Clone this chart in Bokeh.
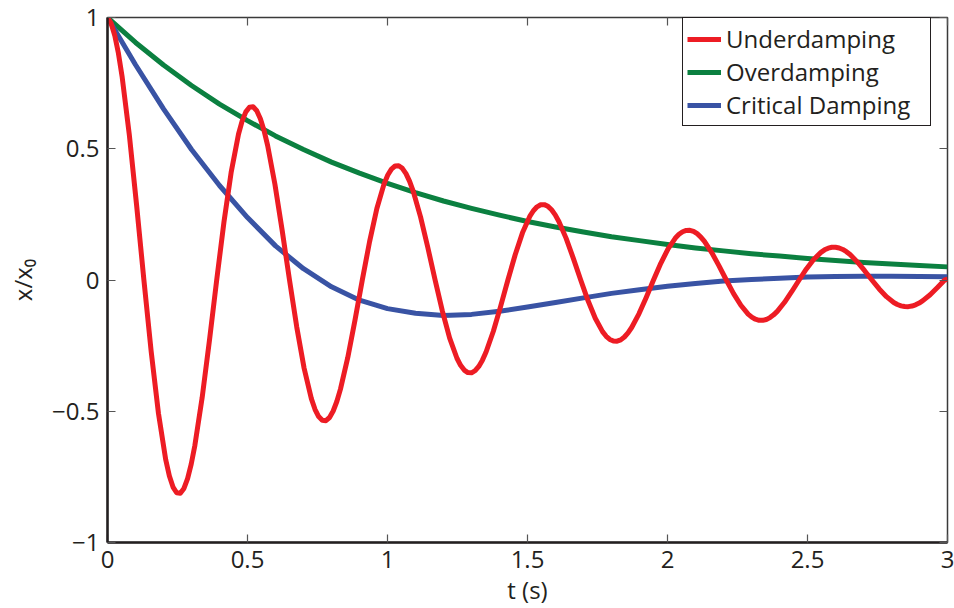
from bokeh.plotting import figure
from bokeh.models import Range1d, FixedTicker, LinearAxis, Legend, LegendItem
from bokeh.embed import file_html
from bokeh.resources import INLINE

# ---------------- data ----------------
# underdamped response, sampled every 0.026 s
t_under = [round(0.026 * k, 3) for k in range(116)] + [3.0]
x_under = [
    1.000, 0.9315, 0.7760, 0.5522, 0.2843, 0.0, -0.2727, -0.5081, -0.6850, -0.7887,
    -0.8122, -0.7566, -0.6303, -0.4485, -0.2309, 0.0, 0.2215, 0.4127, 0.5563, 0.6406,
    0.6597, 0.6145, 0.5119, 0.3643, 0.1876, 0.0, -0.1799, -0.3352, -0.4519, -0.5203,
    -0.5358, -0.4991, -0.4158, -0.2959, -0.1523, 0.0, 0.1461, 0.2723, 0.3670, 0.4226,
    0.4352, 0.4054, 0.3378, 0.2404, 0.1237, 0.0, -0.1187, -0.2211, -0.2981, -0.3433,
    -0.3535, -0.3293, -0.2743, -0.1952, -0.1005, 0.0, 0.0964, 0.1796, 0.2421, 0.2788,
    0.2871, 0.2674, 0.2228, 0.1586, 0.0816, 0.0, -0.0783, -0.1459, -0.1967, -0.2265,
    -0.2332, -0.2172, -0.1810, -0.1288, -0.0663, 0.0, 0.0636, 0.1185, 0.1597, 0.1839,
    0.1894, 0.1764, 0.1470, 0.1046, 0.0538, 0.0, -0.0517, -0.0962, -0.1298, -0.1494,
    -0.1538, -0.1433, -0.1194, -0.0849, -0.0437, 0.0, 0.0420, 0.0782, 0.1053, 0.1214,
    0.1249, 0.1164, 0.0970, 0.0690, 0.0355, 0.0, -0.0341, -0.0635, -0.0856, -0.0985,
    -0.1015, -0.0945, -0.0788, -0.0560, -0.0288, 0.0, 0.003,
]
# extra readings around the start and around every peak / trough
t_under_extra = [0.013, 0.039,
                 0.221, 0.247, 0.273, 0.299, 0.481, 0.507, 0.533, 0.559,
                 0.741, 0.767, 0.793, 0.819, 1.001, 1.027, 1.053, 1.079,
                 1.261, 1.287, 1.313, 1.339, 1.521, 1.547, 1.573, 1.599,
                 1.781, 1.807, 1.833, 1.859, 2.041, 2.067, 2.093, 2.119,
                 2.301, 2.327, 2.353, 2.379, 2.561, 2.587, 2.613, 2.639,
                 2.821, 2.847, 2.873, 2.899]
x_under_extra = [0.9775, 0.8636,
                 -0.7466, -0.8105, -0.7939, -0.7015, 0.6064, 0.6583, 0.6449, 0.5697,
                 -0.4925, -0.5346, -0.5238, -0.4628, 0.4001, 0.4343, 0.4254, 0.3758,
                 -0.3249, -0.3528, -0.3455, -0.3053, 0.2639, 0.2865, 0.2806, 0.2480,
                 -0.2144, -0.2327, -0.2280, -0.2014, 0.1741, 0.1890, 0.1851, 0.1636,
                 -0.1414, -0.1536, -0.1503, -0.1328, 0.1148, 0.1247, 0.1221, 0.1079,
                 -0.0933, -0.1012, -0.0992, -0.0877]

t_grid = [0.0, 0.1, 0.2, 0.3, 0.4, 0.5, 0.6, 0.7, 0.8, 0.9, 1.0,
          1.1, 1.2, 1.3, 1.4, 1.5, 1.6, 1.7, 1.8, 1.9, 2.0,
          2.1, 2.2, 2.3, 2.4, 2.5, 2.6, 2.7, 2.8, 2.9, 3.0]
x_over = [1.000, 0.905, 0.819, 0.741, 0.670, 0.607, 0.549, 0.497, 0.449, 0.407, 0.368,
          0.333, 0.301, 0.273, 0.247, 0.223, 0.202, 0.183, 0.165, 0.150, 0.135,
          0.122, 0.111, 0.100, 0.091, 0.082, 0.074, 0.067, 0.061, 0.055, 0.050]
x_crit = [1.000, 0.820, 0.652, 0.497, 0.360, 0.238, 0.130, 0.043, -0.026, -0.077, -0.109,
          -0.127, -0.135, -0.131, -0.119, -0.103, -0.086, -0.068, -0.051, -0.037, -0.024,
          -0.013, -0.004, 0.002, 0.007, 0.011, 0.013, 0.014, 0.014, 0.013, 0.012]

series_names = ["Underdamping", "Overdamping", "Critical Damping"]

x_ticks = [0, 0.5, 1, 1.5, 2, 2.5, 3]
x_tick_labels = ["0", "0.5", "1", "1.5", "2", "2.5", "3"]
y_ticks = [-1, -0.5, 0, 0.5, 1]
y_tick_labels = ["\u22121", "\u22120.5", "0", "0.5", "1"]

# merge the underdamped readings in time order
_pairs = sorted(zip(t_under + t_under_extra, x_under + x_under_extra))
t_u = [a for a, _ in _pairs]
x_u = [b for _, b in _pairs]

# ---------------- style ----------------
FONT = "Open Sans"
FS = "24px"
TXT = "#231f20"
RED = "#ed1c24"
GREEN = "#0b8040"
BLUE = "#3953a4"
LW = 5

p = figure(width=954, height=608, output_backend="svg", toolbar_location=None,
           x_range=Range1d(0, 3), y_range=Range1d(-1, 1),
           min_border_left=107, min_border_right=7, min_border_top=17, min_border_bottom=62)
p.xgrid.visible = False
p.ygrid.visible = False
p.outline_line_color = "#3a3a3a"
p.outline_line_width = 1.5
p.outline_line_alpha = 1.0
p.background_fill_color = "white"
p.border_fill_color = "white"

r_over = p.line(t_grid, x_over, line_color=GREEN, line_width=LW, line_join="round")
r_crit = p.line(t_grid, x_crit, line_color=BLUE, line_width=LW, line_join="round")
r_under = p.line(t_u, x_u, line_color=RED, line_width=LW, line_join="round")

xa = p.xaxis[0]
ya = p.yaxis[0]
xa.ticker = FixedTicker(ticks=x_ticks)
ya.ticker = FixedTicker(ticks=y_ticks)
xa.major_label_overrides = {float(k): v for k, v in zip(x_ticks, x_tick_labels)}
ya.major_label_overrides = {float(k): v for k, v in zip(y_ticks, y_tick_labels)}
xa.axis_label = "t (s)"
ya.axis_label = "x/x\u2080"
for ax in (xa, ya):
    ax.axis_line_width = 2.5
    ax.axis_line_color = TXT
    ax.major_tick_in = 8
    ax.major_tick_out = 0
    ax.major_tick_line_color = "#555555"
    ax.major_tick_line_width = 1.2
    ax.minor_tick_line_color = None
    ax.major_label_text_font = FONT
    ax.major_label_text_font_size = FS
    ax.major_label_text_color = TXT
    ax.axis_label_text_font = FONT
    ax.axis_label_text_font_size = FS
    ax.axis_label_text_font_style = "normal"
    ax.axis_label_text_color = TXT
ya.major_label_text_line_height = 1.0
xa.major_label_standoff = 8
xa.axis_label_standoff = 2
ya.major_label_standoff = 8
ya.axis_label_standoff = 10

# tick-only axes on the top and right frame edges
for loc, ticks in (("above", x_ticks), ("right", y_ticks)):
    ax = LinearAxis(ticker=FixedTicker(ticks=ticks),
                    major_label_overrides={float(k): "" for k in ticks},
                    major_label_text_font_size="1px", major_label_standoff=0,
                    axis_line_color=None, major_tick_in=8, major_tick_out=0,
                    major_tick_line_color="#555555", major_tick_line_width=1.2,
                    minor_tick_line_color=None)
    p.add_layout(ax, loc)

legend = Legend(items=[LegendItem(label=series_names[0], renderers=[r_under]),
                       LegendItem(label=series_names[1], renderers=[r_over]),
                       LegendItem(label=series_names[2], renderers=[r_crit])],
                location=(575, 416), margin=0, padding=4, spacing=0,
                glyph_width=34, glyph_height=30, label_height=30, label_standoff=5,
                label_width=200,
                label_text_font=FONT, label_text_font_size=FS, label_text_color=TXT,
                border_line_color=TXT, border_line_width=1.5, border_line_alpha=1.0,
                background_fill_color="white", background_fill_alpha=1.0)
p.add_layout(legend, "center")

open("out.html", "w").write(file_html(p, INLINE))
